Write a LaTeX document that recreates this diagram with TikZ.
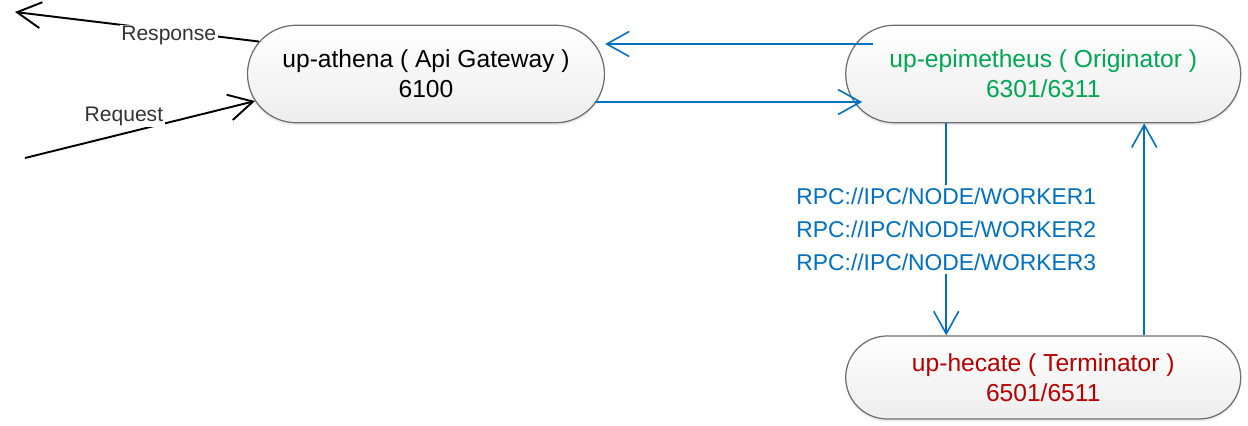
\documentclass[tikz,border=0pt]{standalone}
\usepackage{fontspec}
\setmainfont{Liberation Sans}
\usetikzlibrary{arrows.meta, positioning, shapes.misc, shadows}
\definecolor{linea}{HTML}{0070C0}
\definecolor{borde}{HTML}{6E6E6E}
\definecolor{verde}{HTML}{00A651}
\definecolor{rojo}{HTML}{B80000}
\definecolor{texto}{HTML}{333333}

\begin{document}
\begin{tikzpicture}[
      b/.style={rounded rectangle, draw=borde, line width=0.7pt, top color=white, bottom color=gray!14,
        drop shadow={shadow xshift=0pt, shadow yshift=-1.5pt, opacity=0.15},
        minimum width=7.14cm, minimum height=1.95cm, inner sep=0pt, align=center,
        font=\fontsize{14}{17}\selectfont},
      flecha/.style={-{Straight Barb[length=4.5mm, width=5mm]}, line width=0.9pt, linea},
      cliente/.style={-{Straight Barb[length=4.8mm, width=5.2mm]}, line width=1.1pt, black},
      etiq/.style={fill=white, inner sep=1pt, text=texto, font=\fontsize{12}{14}\selectfont}]
    \useasboundingbox (0,0) rectangle (24.96,8.52);
    \node[b] (athena) at (8.52,7.04) {up-athena ( Api Gateway )\\6100};
    \node[b, minimum width=7.9cm, right=4.8cm of athena, text=verde] (epi) {up-epimetheus ( Originator )\\6301/6311};
    \node[b, minimum width=7.9cm, minimum height=1.66cm, below=4.24cm of epi, text=rojo] (hecate) {up-hecate ( Terminator )\\6501/6511};
    \coordinate (salida) at (0.3,8.28);
    \coordinate (entrada) at (0.5,5.36);
    % cliente
    \draw[cliente] (athena.169.6) -- node[etiq, pos=0.37, yshift=-3pt] {Response} (salida);
    \draw[cliente] (entrada) -- node[etiq, pos=0.43, above=3pt] {Request} (athena.189);
    % gateway <-> originator
    \draw[flecha] ([xshift=0.56cm, yshift=0.6cm]epi.west) -- ([yshift=0.6cm]athena.east);
    \draw[flecha] ([xshift=-0.2cm, yshift=-0.56cm]athena.east) -- ([xshift=0.34cm, yshift=-0.56cm]epi.west);
    % originator <-> terminator
    \draw[flecha] ([xshift=-1.94cm]epi.south) -- node[fill=white, text=linea, inner sep=2pt, align=center,
        font=\fontsize{13}{18.7}\selectfont]
        {RPC://IPC/NODE/WORKER1\\RPC://IPC/NODE/WORKER2\\RPC://IPC/NODE/WORKER3} ([xshift=-1.94cm]hecate.north);
    \draw[flecha] ([xshift=2.02cm]hecate.north) -- ([xshift=2.02cm]epi.south);
  \end{tikzpicture}
\end{document}
